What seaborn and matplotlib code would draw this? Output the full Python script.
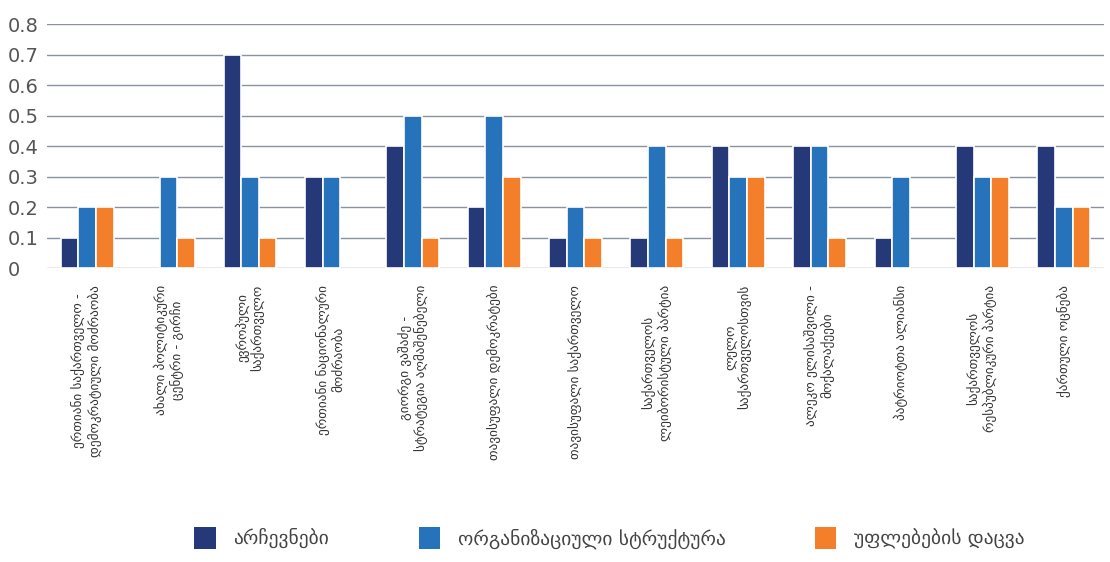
import numpy as np
import pandas as pd
import matplotlib
matplotlib.use("Agg")
import matplotlib.pyplot as plt
import seaborn as sns
from matplotlib.patches import Patch
from matplotlib.ticker import FuncFormatter

categories = [
    "ერთიანი საქართველო -\nდემოკრატიული მოძრაობა",
    "ახალი პოლიტიკური\nცენტრი - გირჩი",
    "ევროპული\nსაქართველო",
    "ერთიანი ნაციონალური\nმოძრაობა",
    "გიორგი ვაშაძე -\nსტრატეგია აღმაშენებელი",
    "თავისუფალი დემოკრატები",
    "თავისუფალი საქართველო",
    "საქართველოს\nლეიბორისტული პარტია",
    "ლელო\nსაქართველოსთვის",
    "ალეკო ელისაშვილი -\nმოქალაქეები",
    "პატრიოტთა ალიანსი",
    "საქართველოს\nრესპუბლიკური პარტია",
    "ქართული ოცნება",
]
series_names = ["არჩევნები", "ორგანიზაციული სტრუქტურა", "უფლებების დაცვა"]
elections = [0.1, np.nan, 0.7, 0.3, 0.4, 0.2, 0.1, 0.1, 0.4, 0.4, 0.1, 0.4, 0.4]
org_structure = [0.2, 0.3, 0.3, 0.3, 0.5, 0.5, 0.2, 0.4, 0.3, 0.4, 0.3, 0.3, 0.2]
rights = [0.2, 0.1, 0.1, np.nan, 0.1, 0.3, 0.1, 0.1, 0.3, 0.1, np.nan, 0.3, 0.2]
colors = ["#253878", "#2673bb", "#f47f2a"]

df = pd.DataFrame({
    "category": categories * 3,
    "series": [series_names[0]] * 13 + [series_names[1]] * 13 + [series_names[2]] * 13,
    "value": elections + org_structure + rights,
})

sns.set_style("white")
plt.rcParams["font.family"] = ["DejaVu Sans"]

fig = plt.figure(figsize=(11.1, 5.62), dpi=100)
ax = fig.add_axes([0.042, 0.523, 0.953, 0.434])

sns.barplot(data=df, x="category", y="value", hue="series", order=categories,
            hue_order=series_names, palette=colors, width=0.65, saturation=1,
            edgecolor="white", linewidth=1.2, ax=ax, legend=False, zorder=3)

ax.set_ylim(0, 0.8)
ax.set_yticks(np.arange(0, 0.81, 0.1))
ax.yaxis.set_major_formatter(FuncFormatter(lambda v, p: "0" if abs(v) < 1e-9 else f"{v:.1f}"))
ax.grid(axis="y", color="#8a92a0", linewidth=1.0, zorder=0)
ax.set_axisbelow(True)
for s in ax.spines.values():
    s.set_visible(False)
ax.set_xlabel("")
ax.set_ylabel("")
ax.tick_params(axis="y", length=0, labelsize=14, labelcolor="#555555", pad=28)
for lab in ax.get_yticklabels():
    lab.set_horizontalalignment("left")
ax.tick_params(axis="x", length=0, pad=12)
ax.set_xticks(range(len(categories)))
ax.set_xticklabels(categories, rotation=90, ha="center", va="top",
                   fontsize=9.5, color="#333333", linespacing=1.15)
ax.set_xlim(-0.5, len(categories) - 0.5)

handles = [Patch(facecolor=c, edgecolor="none") for c in colors]
fig.legend(handles, series_names, loc="center", bbox_to_anchor=(0.549, 0.043),
           ncol=3, frameon=False, fontsize=14, handlelength=1.1, handleheight=1.4,
           handletextpad=0.9, columnspacing=4.6, labelcolor="#444444")

fig.savefig("out.png", dpi=100)
